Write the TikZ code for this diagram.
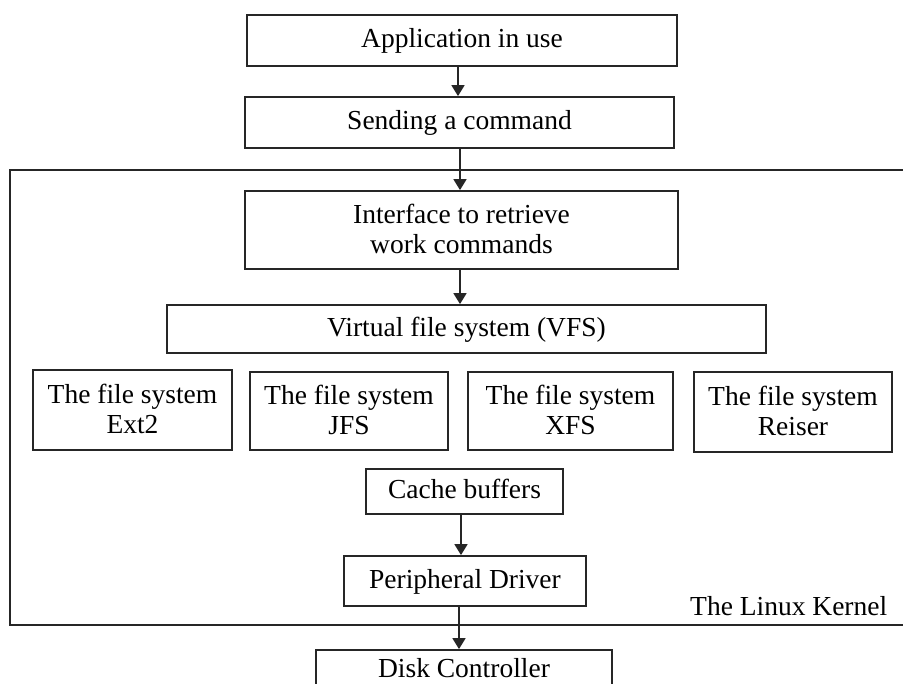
\documentclass[tikz,border=0pt]{standalone}
\usepackage{fontspec}
\setmainfont{Liberation Serif}
\usetikzlibrary{arrows.meta}
\tikzset{
  box/.style={draw=black!85, line width=1.8pt, rectangle, inner sep=0pt, align=center,
    font=\fontsize{27.5}{30}\selectfont, text height=20pt, text depth=5pt, anchor=center},
  boxtwo/.style={box, text height=52pt, text depth=5pt},
  arr/.style={draw=black!85, line width=1.8pt, -{Triangle[length=11pt,width=13pt]}},
  frame/.style={draw=black!85, line width=1.8pt}
}
\begin{document}
\begin{tikzpicture}[x=1pt,y=-1pt]
\path[use as bounding box, clip] (0,0) rectangle (903,684);
\fill[white] (0,0) rectangle (903,684);
% kernel frame (open on the right, running off the picture)
\draw[frame] (910,170) -- (10,170) -- (10,625) -- (910,625);
\node[anchor=base west, inner sep=0pt, font=\fontsize{27.5}{30}\selectfont] (kern) at (690,615) {The Linux Kernel};

\node[box, minimum width=430pt, minimum height=51pt] (app) at (462,40.5) {Application in use};
\node[box, minimum width=429pt, minimum height=51pt] (send) at (459.5,122.5) {Sending a command};
\node[boxtwo, minimum width=433pt, minimum height=78pt] (intf) at (461.5,230) {Interface to retrieve\\work commands};
\node[box, minimum width=599pt, minimum height=48pt] (vfs) at (466.5,329) {Virtual file system (VFS)};
\node[boxtwo, minimum width=199pt, minimum height=80pt] (ext) at (132.5,410) {The file system\\Ext2};
\node[boxtwo, minimum width=198pt, minimum height=78pt] (jfs) at (349,411) {The file system\\JFS};
\node[boxtwo, minimum width=205pt, minimum height=78pt] (xfs) at (570.5,411) {The file system\\XFS};
\node[boxtwo, minimum width=198pt, minimum height=80pt] (reis) at (793,412) {The file system\\Reiser};
\node[box, minimum width=197pt, minimum height=45pt] (cache) at (464.5,491.5) {Cache buffers};
\node[box, minimum width=242pt, minimum height=50pt] (drv) at (465,581) {Peripheral Driver};
\node[box, minimum width=296pt, minimum height=40pt] (disk) at (464,670) {Disk Controller};

\draw[arr] ([xshift=-4pt]app.south) -- ([xshift=-4pt]app.south |- send.north);
\draw[arr] ([xshift=0.5pt]send.south) -- ([xshift=0.5pt]send.south |- intf.north);
\draw[arr] ([xshift=-1.5pt]intf.south) -- ([xshift=-1.5pt]intf.south |- vfs.north);
\draw[arr] ([xshift=-3.5pt]cache.south) -- ([xshift=-3.5pt]cache.south |- drv.north);
\draw[arr] ([xshift=-6pt]drv.south) -- ([xshift=-6pt]drv.south |- disk.north);
\end{tikzpicture}
\end{document}
